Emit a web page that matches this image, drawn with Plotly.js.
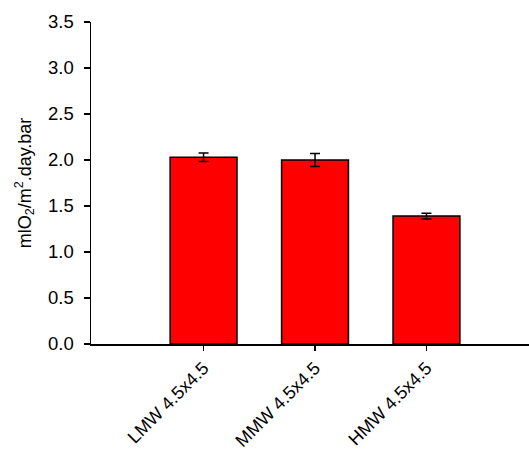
<!DOCTYPE html>
<html>
<head>
<meta charset="utf-8">
<script src="https://cdn.plot.ly/plotly-3.0.1.min.js"></script>
<style>html,body{margin:0;padding:0;background:#fff}#chart{width:529px;height:454px}</style>
</head>
<body>
<div id="chart"></div>
<script>
// Oxygen permeance per membrane type
const categories = ['LMW 4.5x4.5', 'MMW 4.5x4.5', 'HMW 4.5x4.5'];
const values = [2.03, 2.00, 1.39];
const errors = [0.045, 0.07, 0.03];
const yTicks = [0, 0.5, 1.0, 1.5, 2.0, 2.5, 3.0, 3.5];
const yTickText = ['0.0', '0.5', '1.0', '1.5', '2.0', '2.5', '3.0', '3.5'];

const font = {family: 'Liberation Sans, Arial, sans-serif', color: '#000'};

Plotly.newPlot('chart', [{
  type: 'bar',
  x: categories,
  y: values,
  width: 0.6,
  marker: {color: '#ff0000', line: {color: '#000', width: 1.5}},
  error_y: {type: 'data', array: errors, visible: true, color: '#000', thickness: 1.5, width: 5}
}], {
  width: 529, height: 454,
  margin: {l: 91, r: 0, t: 22, b: 110},
  paper_bgcolor: '#fff', plot_bgcolor: '#fff',
  showlegend: false,
  xaxis: {
    type: 'category',
    range: [-1.01, 2.92],
    showline: true, linecolor: '#000', linewidth: 1.5,
    ticks: 'outside', ticklen: 5, tickcolor: '#000', tickwidth: 1.5,
    tickangle: -45,
    tickfont: Object.assign({size: 18}, font),
    showgrid: false, zeroline: false
  },
  yaxis: {
    range: [0, 3.5],
    tickvals: yTicks, ticktext: yTickText,
    showline: true, linecolor: '#000', linewidth: 1.5,
    ticks: 'outside', ticklen: 6, tickcolor: '#000', tickwidth: 1.5,
    ticklabelstandoff: 6,
    tickfont: Object.assign({size: 18.5}, font),
    showgrid: false, zeroline: false,
    title: {text: 'mlO<sub>2</sub>/m<sup>2</sup>.day.bar', font: Object.assign({size: 18}, font), standoff: 12}
  }
}, {displayModeBar: false, staticPlot: true});
</script>
</body>
</html>
